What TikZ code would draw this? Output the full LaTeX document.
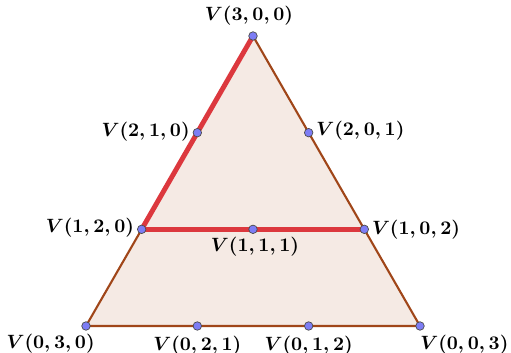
\documentclass[tikz,border=0pt]{standalone}
\usepackage{amsmath,amssymb}
\usepackage{tikz}
\usetikzlibrary{positioning,calc}

\definecolor{edgebrown}{RGB}{160,70,25}
\definecolor{facefill}{RGB}{245,234,228}
\definecolor{pathred}{RGB}{220,56,62}
\definecolor{dotblue}{RGB}{125,125,245}

\begin{document}
\begin{tikzpicture}[
  x=0.02cm, y=0.02cm,
  pt/.style={circle, draw=black!70, fill=dotblue, inner sep=0pt, minimum size=0.17cm, line width=0.4pt},
  edge/.style={draw=edgebrown, line width=1.2pt},
  hilite/.style={draw=pathred, line width=2.8pt, line cap=round},
  lbl/.style={font=\boldmath\fontsize{10.5}{12}\selectfont, inner sep=1pt}
]
\useasboundingbox (0,0) rectangle (511,352);

%% Vertices of the simplex
\coordinate (v300) at (253,316);
\coordinate (v030) at (86,26);
\coordinate (v003) at (420,26);

%% Face
\fill[facefill] (v300) -- (v030) -- (v003) -- cycle;
\draw[edge] (v300) -- (v030) -- (v003) -- cycle;

%% Points at thirds
\coordinate (v210) at ($(v300)!1/3!(v030)$);
\coordinate (v120) at ($(v300)!2/3!(v030)$);
\coordinate (v201) at ($(v300)!1/3!(v003)$);
\coordinate (v102) at ($(v300)!2/3!(v003)$);
\coordinate (v021) at ($(v030)!1/3!(v003)$);
\coordinate (v012) at ($(v030)!2/3!(v003)$);
\coordinate (v111) at ($(v120)!1/2!(v102)$);

%% Highlighted path
\draw[hilite] (v300) -- (v120);
\draw[hilite] (v120) -- (v102);

%% Dots and labels
\node[pt] (p300) at (v300) {};
\node[pt] (p210) at (v210) {};
\node[pt] (p120) at (v120) {};
\node[pt] (p030) at (v030) {};
\node[pt] (p201) at (v201) {};
\node[pt] (p102) at (v102) {};
\node[pt] (p003) at (v003) {};
\node[pt] (p021) at (v021) {};
\node[pt] (p012) at (v012) {};
\node[pt] (p111) at (v111) {};

\node[lbl, above=0.07cm of p300, xshift=-0.08cm] (l300) {$V(3,0,0)$};
\node[lbl, left=0.02cm of p210, yshift=0.02cm] (l210) {$V(2,1,0)$};
\node[lbl, left=0.02cm of p120, yshift=0.04cm] (l120) {$V(1,2,0)$};
\node[lbl, below left=0.06cm and -0.28cm of p030] (l030) {$V(0,3,0)$};
\node[lbl, right=0.02cm of p201, yshift=0.04cm] (l201) {$V(2,0,1)$};
\node[lbl, right=0.02cm of p102] (l102) {$V(1,0,2)$};
\node[lbl, below right=0.08cm and -0.1cm of p003] (l003) {$V(0,0,3)$};
\node[lbl, below=0.02cm of p111, xshift=0.04cm] (l111) {$V(1,1,1)$};
\node[lbl, below=0.06cm of p021] (l021) {$V(0,2,1)$};
\node[lbl, below=0.06cm of p012] (l012) {$V(0,1,2)$};
\end{tikzpicture}
\end{document}
